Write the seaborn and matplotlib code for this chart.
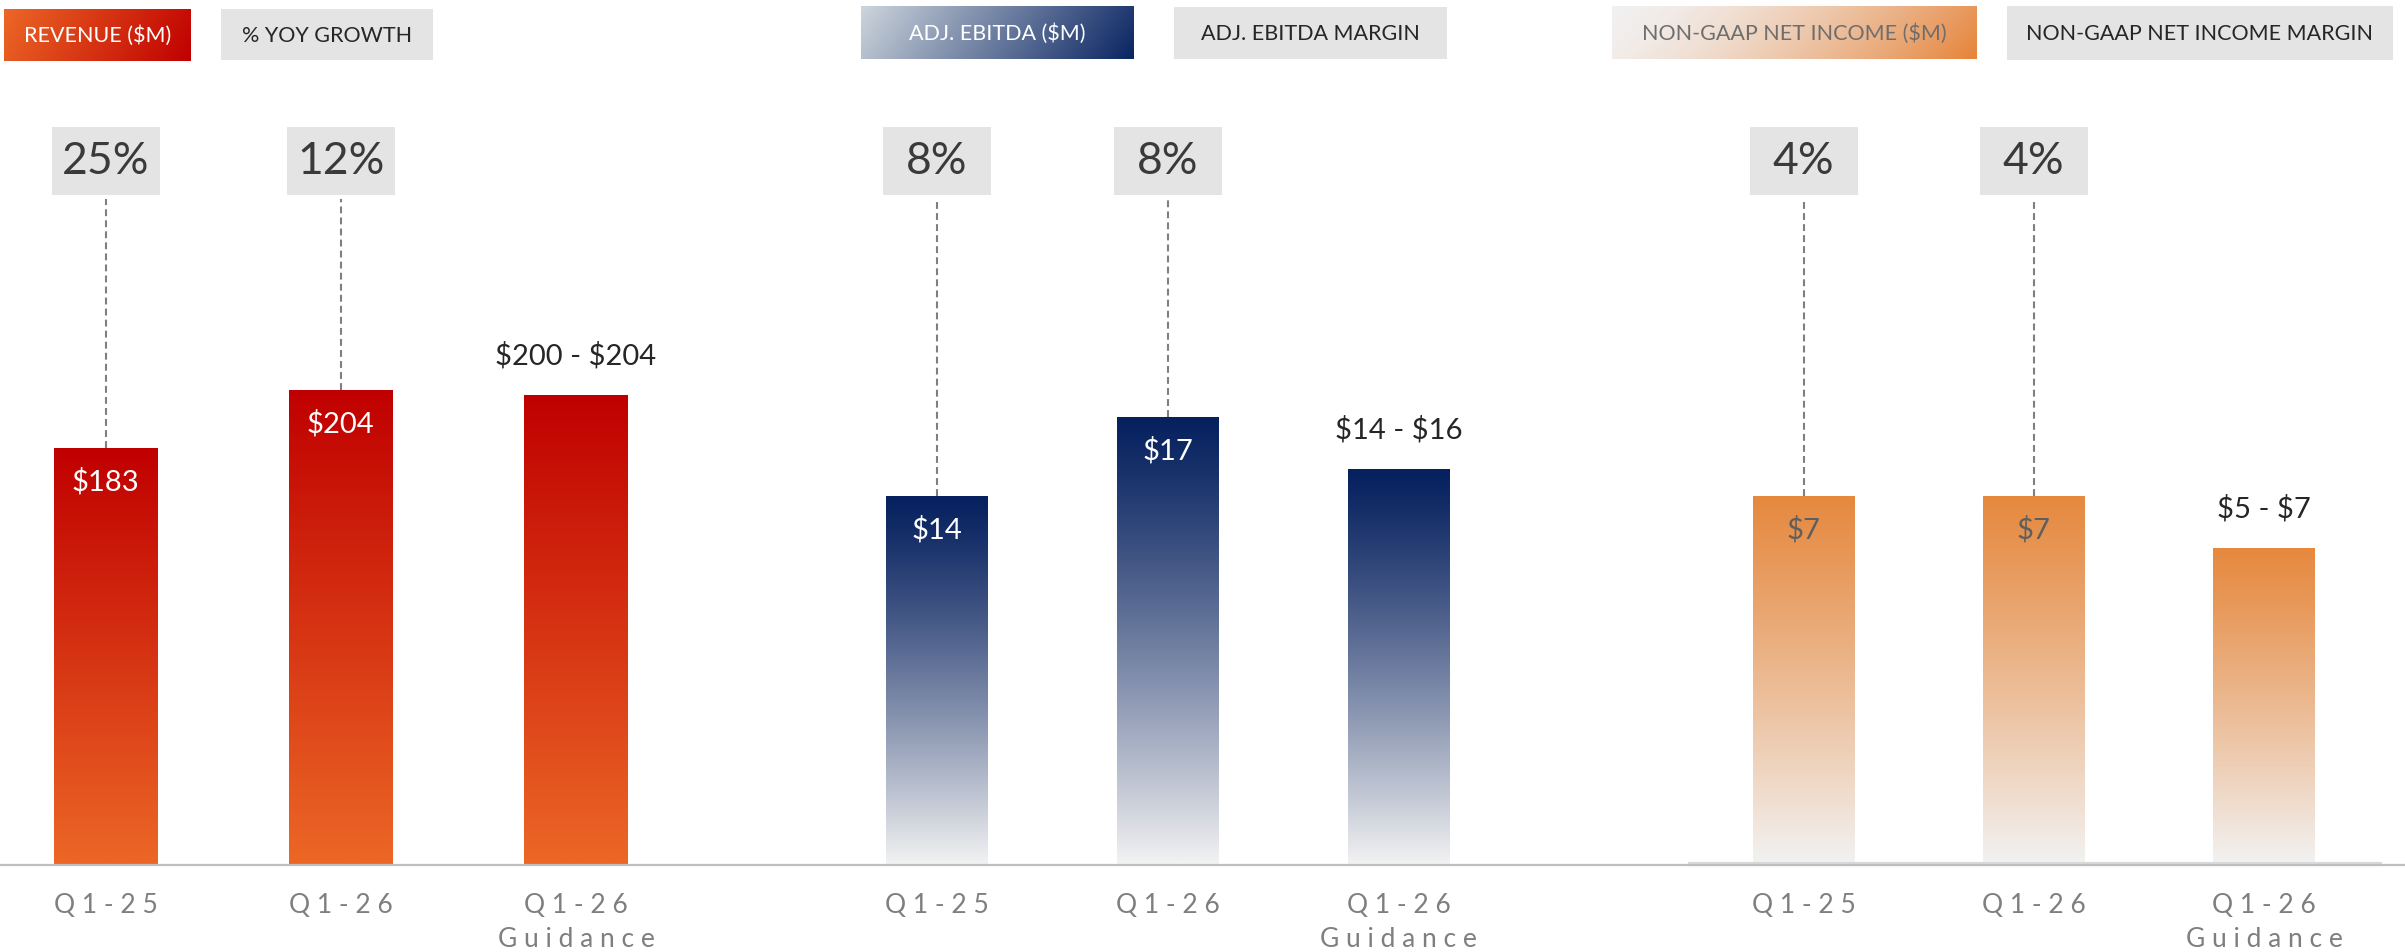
import numpy as np
import matplotlib
matplotlib.use("Agg")
import matplotlib.pyplot as plt
import seaborn as sns
from matplotlib.colors import to_rgb
from matplotlib.patches import Rectangle
from matplotlib.transforms import blended_transform_factory

# ---------------- data ----------------
periods = ["Q1-25", "Q1-26", "Q1-26\nGuidance"]

revenue = [183, 204, 202]
revenue_labels = ["$183", "$204", "$200 - $204"]
yoy_growth = ["25%", "12%"]

adj_ebitda = [14, 17, 15]
ebitda_labels = ["$14", "$17", "$14 - $16"]
ebitda_margin = ["8%", "8%"]

net_income = [7, 7, 6]
net_income_labels = ["$7", "$7", "$5 - $7"]
net_income_margin = ["4%", "4%"]

legend_titles = ["REVENUE ($M)", "% YOY GROWTH",
                 "ADJ. EBITDA ($M)", "ADJ. EBITDA MARGIN",
                 "NON-GAAP NET INCOME ($M)", "NON-GAAP NET INCOME MARGIN"]

# ---------------- style ----------------
sns.set_theme(style="white")
plt.rcParams['font.family'] = ['Lato', 'DejaVu Sans']
plt.rcParams['text.parse_math'] = False

W, H = 2405, 952
BASE, TOP = 864, 199          # pixel rows of axes bottom / top
fig = plt.figure(figsize=(W / 100, H / 100), dpi=100)
fig.patch.set_facecolor("white")


def grad(top, bottom, n=256, gamma=1.0):
    f = np.linspace(0, 1, n) ** gamma
    a, b = np.array(to_rgb(top)), np.array(to_rgb(bottom))
    arr = a[None, :] * (1 - f[:, None]) + b[None, :] * f[:, None]
    return arr[:, None, :]


panels = [
    dict(vals=revenue, labels=revenue_labels, margins=yoy_growth,
         px=(0, 700), xlim=(-0.4485, 2.527), ylim=(32.4, 273.2),
         top="#C00000", bottom="#EC6726", gamma=1.0,
         inside="white", spine=False),
    dict(vals=adj_ebitda, labels=ebitda_labels, margins=ebitda_margin,
         px=(830, 1505), xlim=(-0.4637, 2.4615), ylim=(0, 25.3),
         top="#06215F", bottom="#F2F2F2", gamma=1.2,
         inside="white", spine=False),
    dict(vals=net_income, labels=net_income_labels, margins=net_income_margin,
         px=(1690, 2380), xlim=(-0.493, 2.504), ylim=(0, 12.65),
         top="#E6893F", bottom="#F2F2F2", gamma=1.1,
         inside="#5F5F5F", spine=True),
]


def spaced(s):
    return "\n".join(" ".join(line) for line in s.split("\n"))


for P in panels:
    x0, x1 = P["px"]
    ax = fig.add_axes([x0 / W, (H - BASE) / H, (x1 - x0) / W, (BASE - TOP) / H])
    ax.patch.set_alpha(0)
    sns.barplot(x=periods, y=P["vals"], order=periods, ax=ax, width=0.44,
                color=P["top"], saturation=1)
    g = grad(P["top"], P["bottom"], gamma=P["gamma"])
    for p in ax.patches:
        bx, bw = p.get_x(), p.get_width()
        ybot = max(p.get_y(), P["ylim"][0])
        ytop = p.get_y() + p.get_height()
        ax.imshow(g, extent=(bx, bx + bw, ybot, ytop), aspect="auto",
                  origin="upper", interpolation="bilinear", zorder=2)
        p.set_visible(False)
    ax.set_xlim(*P["xlim"])
    ax.set_ylim(*P["ylim"])
    ax.set_yticks([])
    ax.set_xlabel("")
    ax.set_ylabel("")
    ax.set_xticks(range(len(periods)))
    ax.set_xticklabels([spaced(s) for s in periods], fontsize=19,
                       color="#7F7F7F", linespacing=1.45)
    ax.tick_params(axis="x", length=0, pad=21)
    for side in ["left", "right", "top", "bottom"]:
        ax.spines[side].set_visible(False)
    if P["spine"]:
        ax.spines["bottom"].set_visible(True)
        ax.spines["bottom"].set_color("#D9D9D9")
        ax.spines["bottom"].set_linewidth(3)

    # value labels
    for i, (v, lab) in enumerate(zip(P["vals"], P["labels"])):
        if i < len(P["margins"]):
            ax.annotate(lab, (i, v), xytext=(0, -24.5), textcoords="offset points",
                        ha="center", va="center", fontsize=21,
                        color=P["inside"], zorder=5)
        else:
            ax.annotate(lab, (i, v), xytext=(0, 28.8), textcoords="offset points",
                        ha="center", va="center", fontsize=21,
                        color="#262626", zorder=5)

    # margin boxes with dashed leaders
    trans = blended_transform_factory(ax.transData, ax.transAxes)
    ppu = ax.transData.transform((1, 0))[0] - ax.transData.transform((0, 0))[0]
    bwid = 108 / ppu
    yb0 = (BASE - 195) / (BASE - TOP)
    yb1 = (BASE - 127) / (BASE - TOP)
    ytxt = (BASE - 161) / (BASE - TOP)
    for i, m in enumerate(P["margins"]):
        v = P["vals"][i]
        ax.vlines(i, v, P["ylim"][1], colors="#7F7F7F", linewidth=1.5,
                  linestyles=(0, (3.3, 2.0)), zorder=3)
        ax.add_patch(Rectangle((i - bwid / 2, yb0), bwid, yb1 - yb0,
                               transform=trans, clip_on=False,
                               facecolor="#E4E4E4", edgecolor="none", zorder=3))
        ax.text(i, ytxt, m, transform=trans, ha="center", va="center",
                fontsize=32, color="#3A3A3A", zorder=4, clip_on=False)

# ---------------- overlay: legend boxes & baseline ----------------
ov = fig.add_axes([0, 0, 1, 1], zorder=10)
ov.patch.set_alpha(0)
ov.axis("off")

legend_boxes = [
    ((4, 191, 9, 61), ("#EC6726", "#C00000"), "white", 1.0),
    ((221, 433, 9, 60), None, "#262626", 1.0),
    ((861, 1134, 6, 59), ("#CDD5DC", "#0A2563"), "white", 1.0),
    ((1174, 1447, 7, 59), None, "#262626", 1.0),
    ((1612, 1977, 6, 59), ("#F2F1F1", "#E6843A"), "#6E6E6E", 1.5),
    ((2007, 2393, 6, 60), None, "#262626", 1.0),
]
for ((bx0, bx1, by0, by1), cols, tc, gam), title in zip(legend_boxes, legend_titles):
    if cols is None:
        ov.add_patch(Rectangle((bx0, by0), bx1 - bx0, by1 - by0,
                               facecolor="#E4E4E4", edgecolor="none"))
    else:
        nx, ny = 200, 30
        xs = np.linspace(0, 1, nx)[None, :]
        ys = np.linspace(0, 1, ny)[:, None]
        t = np.clip(0.88 * xs + 0.12 * ys, 0, 1) ** gam
        a, b = np.array(to_rgb(cols[0])), np.array(to_rgb(cols[1]))
        img = a[None, None, :] * (1 - t[..., None]) + b[None, None, :] * t[..., None]
        ov.imshow(img, extent=(bx0, bx1, by1, by0), origin="upper",
                  aspect="auto", interpolation="bilinear")
    ov.text((bx0 + bx1) / 2, (by0 + by1) / 2 + 1, title, ha="center",
            va="center", fontsize=15.5, color=tc)

ov.plot([0, W], [865, 865], color="#BFBFBF", linewidth=1.6, solid_capstyle="butt")
ov.set_xlim(0, W)
ov.set_ylim(H, 0)

fig.savefig("out.png", dpi=100, facecolor="white")
